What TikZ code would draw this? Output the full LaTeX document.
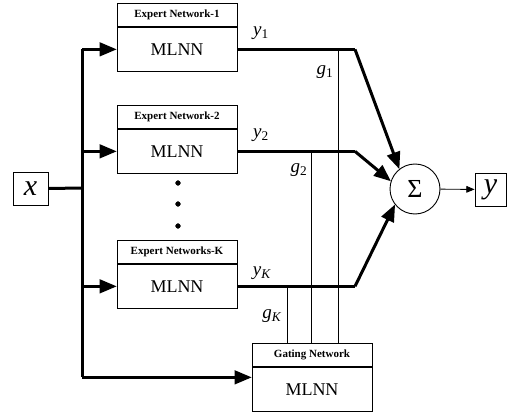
\documentclass[tikz,border=0pt]{standalone}
\usepackage{fontspec}
\setmainfont{Liberation Serif}
\usetikzlibrary{arrows}
\usetikzlibrary{shapes}

\tikzset{
  titlebox/.style={draw, line width=0.9pt, minimum width=120pt, minimum height=23pt,
    inner sep=0pt, font=\bfseries\fontsize{11}{11}\selectfont},
  bodybox/.style={draw, line width=0.9pt, minimum width=120pt, minimum height=44pt,
    inner sep=0pt, font=\fontsize{18}{18}\selectfont},
  varbox/.style={draw, line width=0.9pt, minimum height=33pt, inner sep=0pt,
    font=\itshape\fontsize{30}{30}\selectfont},
  lab/.style={inner sep=0pt, font=\fontsize{19}{19}\selectfont},
  thickline/.style={line width=3pt},
  thinline/.style={line width=0.9pt}
}

\begin{document}
\begin{tikzpicture}[x=1pt,y=-1pt]
\useasboundingbox (0,0) rectangle (507,412);
\begin{scope}
\node [titlebox, anchor=north] (e1t) at (177,3) {Expert Network-1};
\node [bodybox, anchor=north] (e1) at (e1t.south) {MLNN};
\node [titlebox, anchor=north] (e2t) at (177,105) {Expert Network-2};
\node [bodybox, anchor=north] (e2) at (e2t.south) {MLNN};
\node [titlebox, anchor=north] (eKt) at (177,240) {Expert Networks-K};
\node [bodybox, anchor=north] (eK) at (eKt.south) {MLNN};
\node [titlebox, anchor=north] (gatet) at (312,343) {Gating Network};
\node [bodybox, anchor=north] (gate) at (gatet.south) {MLNN};
\node [varbox, minimum width=35pt] (xin) at (30.5,188.5) {x};
\node [varbox, minimum width=31pt] (yout) at (490.5,189.5) {y};
\node [draw, circle, line width=0.9pt, minimum size=50pt, inner sep=0pt,
  font=\fontsize{26}{26}\selectfont] (sum) at (415,189) {Σ};
\filldraw (178,183) circle (2.4pt) (178,204) circle (2.4pt)
          (178,226) circle (2.4pt);
\coordinate (split) at (82,188);
\coordinate (gin) at ([yshift=12pt]gate.west);
\draw [thickline] (xin.east) -- (split);
\draw [thickline] (split |- e1.west) -- (split |- gin);
\draw [thickline,-triangle 45] (split |- e1.west) -- (e1.west);
\draw [thickline,-triangle 45] (split |- e2.west) -- (e2.west);
\draw [thickline,-triangle 45] (split |- eK.west) -- (eK.west);
\draw [thickline,-triangle 45] (split |- gin) -- (gin);
\coordinate (bend) at (355,0);
\draw [thickline] (e1.east) -- (e1.east -| bend) coordinate (b1);
\draw [thickline] (e2.east) -- (e2.east -| bend) coordinate (b2);
\draw [thickline] (eK.east) -- (eK.east -| bend) coordinate (bK);
\draw [thickline,-triangle 45] (b1) -- (sum.128);
\draw [thickline,-triangle 45] (b2) -- (sum.162);
\draw [thickline,-triangle 45] (bK) -- (sum.218);
\draw [thinline,-triangle 45] (sum) -- (yout);
\coordinate (g1) at (338,0);
\coordinate (g2) at (311,0);
\coordinate (gK) at (287,0);
\draw [thinline] (gatet.north -| g1) -- (e1.east -| g1);
\draw [thinline] (gatet.north -| g2) -- (e2.east -| g2);
\draw [thinline] (gatet.north -| gK) -- (eK.east -| gK);
\node [lab] (y1l) at (261,33) {\textit{y}\textsubscript{1}};
\node [lab] (y2l) at (261,135) {\textit{y}\textsubscript{2}};
\node [lab] (yKl) at (262,273) {\textit{y}\textsubscript{\textit{K}}};
\node [lab] (g1l) at (325,72) {\textit{g}\textsubscript{1}};
\node [lab] (g2l) at (299,170) {\textit{g}\textsubscript{2}};
\node [lab] (gKl) at (272,316) {\textit{g}\textsubscript{\textit{K}}};
\end{scope}
\end{tikzpicture}
\end{document}
